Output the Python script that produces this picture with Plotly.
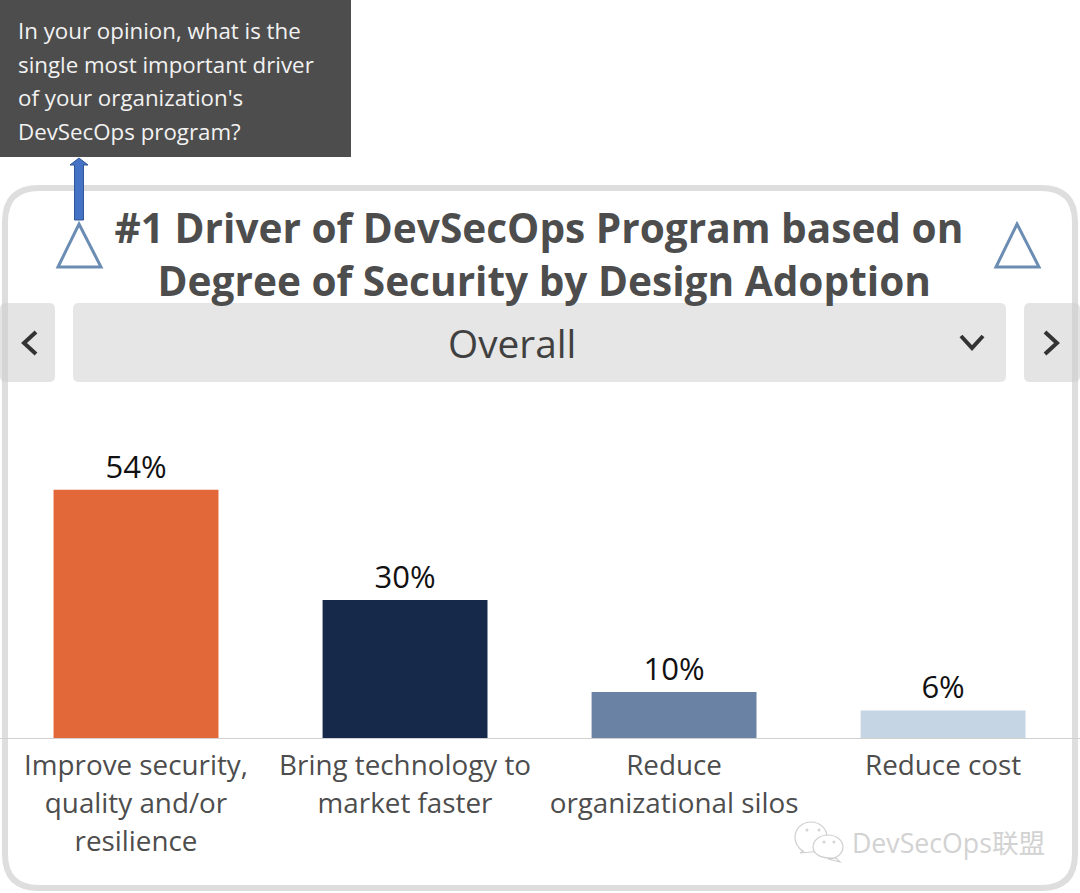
import plotly.graph_objects as go

category_lines = [["Improve security,", "quality and/or", "resilience"], ["Bring technology to", "market faster"],
                  ["Reduce", "organizational silos"], ["Reduce cost"]]
values = [54, 30, 10, 6]
bar_colors = ["#E26739", "#16294B", "#6A82A3", "#C6D5E4"]
question_lines = ["In your opinion, what is the", "single most important driver",
                  "of your organization's", "DevSecOps program?"]
title = "<b>#1 Driver of DevSecOps Program based on<br>&nbsp;Degree of Security by Design Adoption</b>"

W, H = 1080, 893
FONT = "Open Sans"


def X(x):
    return x / W


def Y(y):
    return 1 - y / H


def spaced(lines, size):
    return "<br>".join(f'<span style="font-size:{size}px">{s}</span>' for s in lines)


def path(cmds):
    out = []
    for c in cmds:
        if isinstance(c, str):
            out.append(c)
        else:
            out.append(f"{X(c[0]):.5f},{Y(c[1]):.5f}")
    return " ".join(out)


def rrect(x0, y0, x1, y1, r):
    return path(["M", (x0 + r, y0), "L", (x1 - r, y0), "Q", (x1, y0), (x1, y0 + r),
                 "L", (x1, y1 - r), "Q", (x1, y1), (x1 - r, y1),
                 "L", (x0 + r, y1), "Q", (x0, y1), (x0, y1 - r),
                 "L", (x0, y0 + r), "Q", (x0, y0), (x0 + r, y0), "Z"])


def shape(d, fill="rgba(0,0,0,0)", line=None, w=0, layer="above"):
    return dict(type="path", xref="paper", yref="paper", path=d, fillcolor=fill,
                line=dict(color=line or "rgba(0,0,0,0)", width=w), layer=layer)


def bubble(cx, cy, rx, ry, tail):
    k = 0.5523
    return path(["M", (cx - rx, cy), "C", (cx - rx, cy - k * ry), (cx - k * rx, cy - ry), (cx, cy - ry),
                 "C", (cx + k * rx, cy - ry), (cx + rx, cy - k * ry), (cx + rx, cy),
                 "C", (cx + rx, cy + k * ry), (cx + k * rx, cy + ry), (cx, cy + ry),
                 "L", tail[0], tail[1], tail[2], "C", (cx - k * rx, cy + ry), (cx - rx, cy + k * ry), (cx - rx, cy), "Z"])


def eye(cx, cy):
    return shape(rrect(cx - 1.5, cy - 1.5, cx + 1.5, cy + 1.5, 1.5), fill="#D4D4D4")


shapes = [
    shape(rrect(5, 188, 1075, 888, 34), fill="white", line="#DEDEDE", w=6, layer="below"),
    shape(rrect(0, 303, 55, 382, 6), fill="rgba(205,205,205,0.55)", layer="below"),
    shape(rrect(73, 303, 1006, 382, 6), fill="#E6E6E6", layer="below"),
    shape(rrect(1024, 303, 1080, 382, 6), fill="rgba(205,205,205,0.55)", layer="below"),
    shape(path(["M", (36, 332), "L", (24, 343), "L", (36, 354)]), line="#333333", w=4),
    shape(path(["M", (1045, 332), "L", (1057, 343), "L", (1045, 354)]), line="#333333", w=4),
    shape(path(["M", (961, 336), "L", (972, 348), "L", (983, 336)]), line="#333333", w=4),
    shape(path(["M", (79, 224), "L", (101, 267), "L", (58, 267), "Z"]), line="#6C8DB3", w=3),
    shape(path(["M", (1017, 224), "L", (1039, 267), "L", (996, 267), "Z"]), line="#6C8DB3", w=3),
    shape(path(["M", (0, 0), "L", (351, 0), "L", (351, 157), "L", (0, 157), "Z"]), fill="#4D4D4D"),
    shape(path(["M", (74.5, 220), "L", (74.5, 165), "L", (70, 165), "L", (79, 158), "L", (88, 165),
                "L", (83.5, 165), "L", (83.5, 220), "Z"]), fill="#4472C4", line="#2F5597", w=1),
    shape(bubble(811, 837, 16, 15, [(800, 853), "L", (804, 851)]), fill="white", line="#CFCFCF", w=1.2),
    shape(bubble(828, 847, 15, 12, [(840, 862), "L", (836, 858)]), fill="white", line="#CFCFCF", w=1.2),
    eye(807, 830), eye(819, 830), eye(824, 842), eye(834, 842),
]

annotations = [
    dict(text=spaced(question_lines, 22.3), x=X(16), y=Y(13), xref="paper", yref="paper", xanchor="left",
         yanchor="top", align="left", showarrow=False, font=dict(family=FONT, size=25.8, color="#F2F2F2")),
    dict(text="Overall", x=X(512), y=Y(343), xref="paper", yref="paper", xanchor="center", yanchor="middle",
         showarrow=False, font=dict(family=FONT, size=38.8, color="#404040")),
    dict(text="DevSecOps联盟", x=X(850), y=Y(842), xref="paper", yref="paper", xanchor="left", yanchor="middle",
         showarrow=False, font=dict(family=FONT + ", Noto Sans CJK SC", size=26.7, color="#D2D2D2")),
]

fig = go.Figure(go.Bar(
    x=[0, 1, 2, 3], y=values, width=0.613, marker=dict(color=bar_colors, line=dict(width=0)),
    texttemplate="%{y}%", textposition="outside", cliponaxis=False,
    textfont=dict(family=FONT, size=31, color="#111111"),
))
fig.update_layout(
    width=W, height=H, margin=dict(l=0, r=0, t=0, b=0), autosize=False,
    paper_bgcolor="white", plot_bgcolor="rgba(0,0,0,0)", showlegend=False,
    title=dict(text=title, x=X(539), y=Y(243), xref="paper", yref="paper", xanchor="center", yanchor="top",
               pad=dict(t=0), font=dict(family=FONT, size=40.6, color="#4D4D4D")),
    xaxis=dict(domain=[0, 1], range=[-0.5056, 3.509], tickmode="array", tickvals=[0, 1, 2, 3],
               ticktext=[spaced(c, 27.8) for c in category_lines], ticks="", showgrid=False, zeroline=False,
               ticklabelstandoff=1, showline=True, linecolor="#D0D0D0", linewidth=1,
               tickfont=dict(family=FONT, size=29.2, color="#4D4D4D")),
    yaxis=dict(domain=[Y(738), Y(400)], range=[0, 73.5], visible=False, showgrid=False),
    shapes=shapes, annotations=annotations,
)
fig.write_html("out.html", post_script="document.body.style.margin='0';", config={"displayModeBar": False})
